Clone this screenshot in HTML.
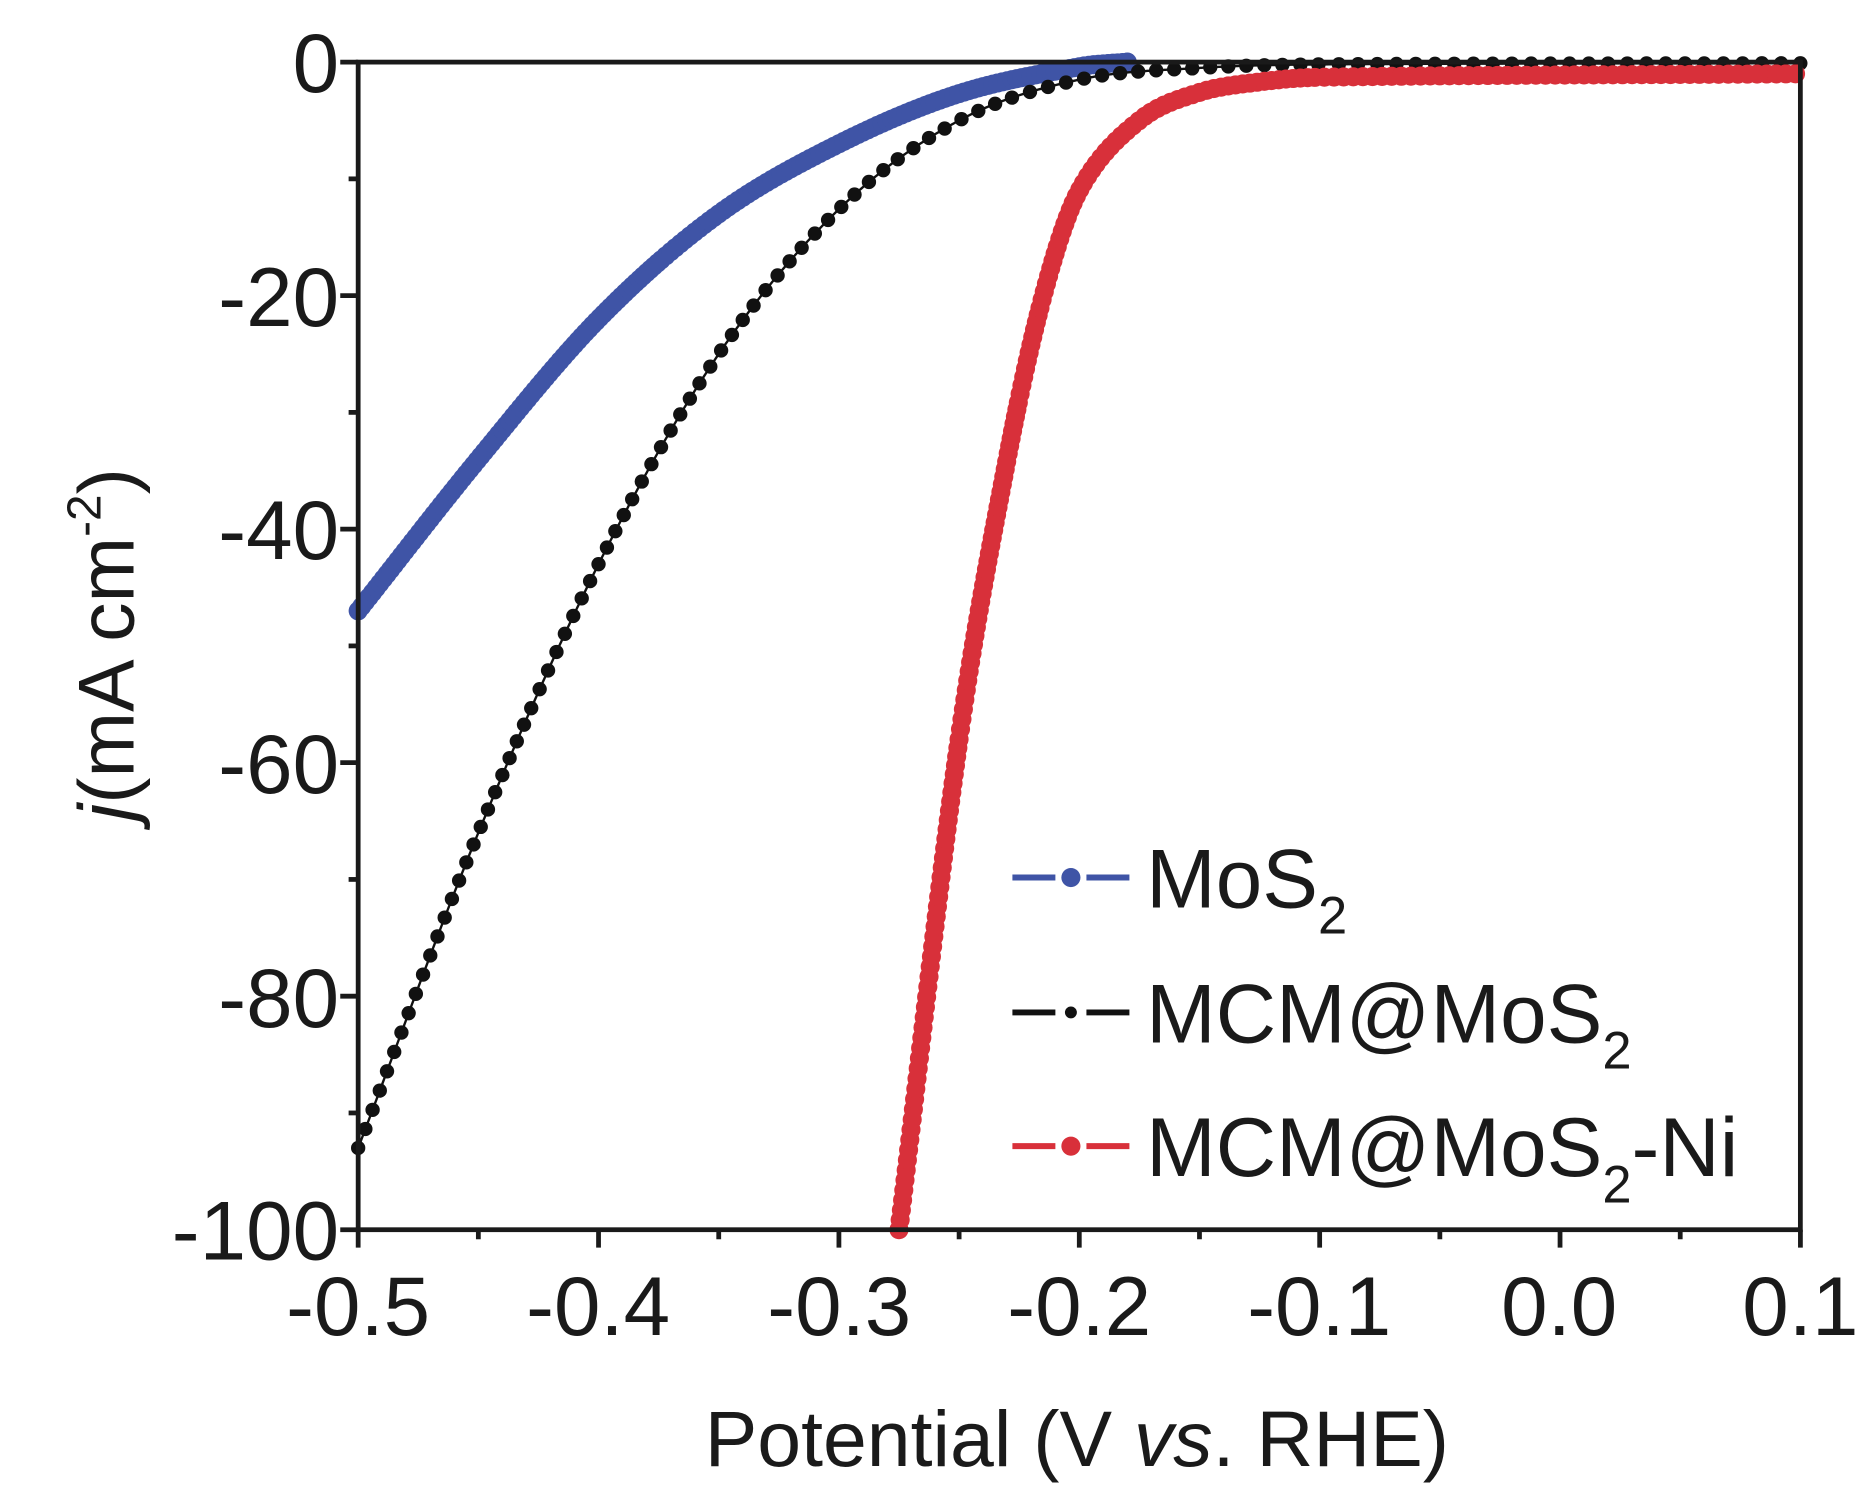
<!DOCTYPE html>
<html><head><meta charset="utf-8"><style>
html,body{margin:0;padding:0;background:#fff;}
svg{display:block;}
text{font-family:"Liberation Sans",Arial,sans-serif;fill:#1a1a1a;}
</style></head><body>
<svg id="s" width="1872" height="1498" viewBox="0 0 1568 1254.7" xmlns="http://www.w3.org/2000/svg">
<g id="series"></g>
<g stroke="#1a1a1a" stroke-width="4" fill="none">
<rect x="300" y="52" width="1208" height="978"/>
<g id="ticks"></g>
</g>
<g font-size="70" text-anchor="end">
<text x="284" y="77">0</text>
<text x="284" y="273">-20</text>
<text x="284" y="468">-40</text>
<text x="284" y="664">-60</text>
<text x="284" y="860">-80</text>
<text x="284" y="1055">-100</text>
</g>
<g font-size="70" text-anchor="middle">
<text x="300" y="1118">-0.5</text>
<text x="501" y="1118">-0.4</text>
<text x="703" y="1118">-0.3</text>
<text x="904" y="1118">-0.2</text>
<text x="1105" y="1118">-0.1</text>
<text x="1306" y="1118">0.0</text>
<text x="1508" y="1118">0.1</text>
</g>
<text x="902" y="1228" font-size="66" text-anchor="middle">Potential (V  <tspan font-style="italic">vs</tspan>. RHE)</text>
<text transform="translate(112,540) rotate(-90)" font-size="66" text-anchor="middle"><tspan font-style="italic">j</tspan>(mA cm<tspan font-size="40" dy="-28">-2</tspan><tspan dy="28">)</tspan></text>
<g id="legend"></g>
<g font-size="70">
<text x="960" y="760">MoS<tspan font-size="44" dy="22">2</tspan></text>
<text x="960" y="873">MCM@MoS<tspan font-size="44" dy="22">2</tspan></text>
<text x="960" y="985">MCM@MoS<tspan font-size="44" dy="22">2</tspan><tspan dy="-22">-Ni</tspan></text>
</g>
</svg>
<script>
var NS="http://www.w3.org/2000/svg";
function X(v){return 300+(v+0.5)*2013.3;}
function Y(j){return 52-j*9.78;}
function el(p,t,a){var e=document.createElementNS(NS,t);for(var k in a)e.setAttribute(k,a[k]);p.appendChild(e);return e;}
var tk=document.getElementById('ticks');
for(var i=0;i<=12;i++){var x=300+i*100.67;var L=(i%2==0)?15:8;el(tk,'line',{x1:x,y1:1030,x2:x,y2:1030+L});}
for(var i=0;i<=10;i++){var y=52+i*97.8;var L=(i%2==0)?15:8;el(tk,'line',{x1:300,y1:y,x2:300-L,y2:y});}
var blue=[[-0.5,-47],[-0.45,-34],[-0.4,-22],[-0.35,-13],[-0.3,-7],[-0.25,-2.7],[-0.2,-0.4],[-0.18,0]];
var black=[[-0.5,-93],[-0.45,-66],[-0.4,-43],[-0.35,-25],[-0.3,-12.6],[-0.25,-5],[-0.2,-1.5],[-0.15,-0.5],[-0.1,-0.2],[0.1,-0.1]];
var red=[[-0.275,-100],[-0.25,-58],[-0.23,-34],[-0.215,-20],[-0.2,-11],[-0.175,-5],[-0.15,-2.6],[-0.125,-1.7],[-0.1,-1.3],[0.1,-1]];
function pts(tab){var P=[];for(var i=0;i<tab.length-1;i++){var a=tab[i],b=tab[i+1];
 var m0=i>0?(b[1]-tab[i-1][1])/(b[0]-tab[i-1][0]):(b[1]-a[1])/(b[0]-a[0]);
 var m1=i<tab.length-2?(tab[i+2][1]-a[1])/(tab[i+2][0]-a[0]):(b[1]-a[1])/(b[0]-a[0]);
 var h=b[0]-a[0];
 for(var t=0;t<1;t+=0.01){var h00=2*t*t*t-3*t*t+1,h10=t*t*t-2*t*t+t,h01=-2*t*t*t+3*t*t,h11=t*t*t-t*t;
  var j=h00*a[1]+h10*h*m0+h01*b[1]+h11*h*m1;P.push([X(a[0]+t*h),Y(j)]);}}
 var l=tab[tab.length-1];P.push([X(l[0]),Y(l[1])]);return P;}
function draw(tab,col,r,sp,w){var g=document.getElementById('series');var P=pts(tab);
 el(g,'polyline',{points:P.map(function(p){return p.join(',')}).join(' '),stroke:col,'stroke-width':w,fill:'none'});
 var acc=0;el(g,'circle',{cx:P[0][0],cy:P[0][1],r:r,fill:col});
 for(var i=1;i<P.length;i++){var d=Math.hypot(P[i][0]-P[i-1][0],P[i][1]-P[i-1][1]);acc+=d;
  if(acc>=sp){acc=0;el(g,'circle',{cx:P[i][0],cy:P[i][1],r:r,fill:col});}}}
draw(blue,'#3f54a6',8,4,14);
draw(black,'#111',6,15,2);
draw(red,'#d8303a',8,6,6);
var lg=document.getElementById('legend');
[[735,'#3f54a6',8],[848,'#111',5],[960,'#d8303a',8]].forEach(function(r){
 el(lg,'line',{x1:848,y1:r[0],x2:884,y2:r[0],stroke:r[1],'stroke-width':5});
 el(lg,'line',{x1:910,y1:r[0],x2:946,y2:r[0],stroke:r[1],'stroke-width':5});
 el(lg,'circle',{cx:897,cy:r[0],r:r[2],fill:r[1]});});
</script>
</body></html>
